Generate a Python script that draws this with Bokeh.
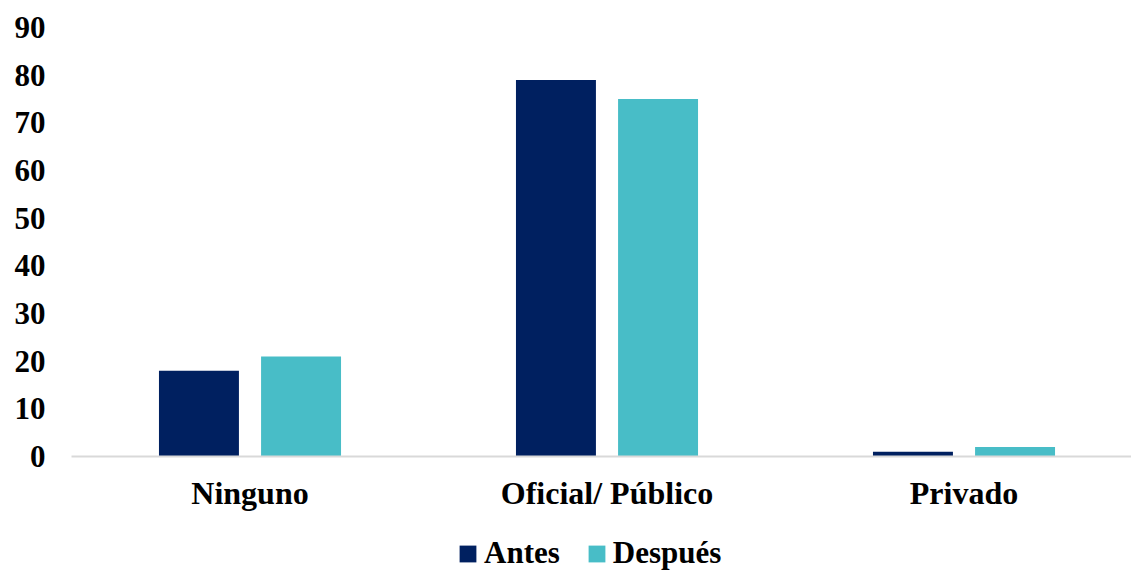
from bokeh.plotting import figure
from bokeh.layouts import column
from bokeh.models import Range1d, Legend, LegendItem, ColumnDataSource, FixedTicker
from bokeh.embed import file_html
from bokeh.resources import INLINE

categories = ["Ninguno", "Oficial/ Público", "Privado"]
antes = [18, 79, 1]
despues = [21, 75, 2]
series_names = ["Antes", "Después"]
y_ticks = [0, 10, 20, 30, 40, 50, 60, 70, 80, 90]

colors = ["#002060", "#48BDC7"]
FONT = "Liberation Serif"

centers = [i + 0.5 for i in range(len(categories))]
offset = 0.143
bar_w = 0.224
W = 1131

src = ColumnDataSource(dict(
    x_a=[c - offset for c in centers],
    x_d=[c + offset for c in centers],
    antes=antes, despues=despues, cat=categories))

p = figure(width=W, height=531, output_backend="svg", toolbar_location=None,
           x_range=Range1d(0, (W - 71) / 357.0), y_range=Range1d(0, 90),
           min_border_left=71, min_border_right=0, min_border_top=27, min_border_bottom=75)

p.vbar(x="x_a", top="antes", width=bar_w, bottom=0, source=src,
       fill_color=colors[0], line_color=None)
p.vbar(x="x_d", top="despues", width=bar_w, bottom=0, source=src,
       fill_color=colors[1], line_color=None)

p.outline_line_color = None
p.xgrid.grid_line_color = None
p.ygrid.grid_line_color = None

p.yaxis.ticker = FixedTicker(ticks=y_ticks)
p.yaxis.axis_line_color = None
p.yaxis.major_tick_line_color = None
p.yaxis.minor_tick_line_color = None
p.yaxis.major_label_standoff = 20
p.yaxis.major_label_text_font = FONT
p.yaxis.major_label_text_font_style = "bold"
p.yaxis.major_label_text_font_size = "31px"
p.yaxis.major_label_text_color = "#000000"

p.xaxis.ticker = FixedTicker(ticks=centers)
p.xaxis.major_label_overrides = {c: cat for c, cat in zip(centers, categories)}
p.xaxis.axis_line_color = "#D9D9D9"
p.xaxis.axis_line_width = 2
p.xaxis.major_tick_line_color = None
p.xaxis.minor_tick_line_color = None
p.xaxis.major_label_standoff = 12
p.xaxis.major_label_text_font = FONT
p.xaxis.major_label_text_font_style = "bold"
p.xaxis.major_label_text_font_size = "32px"
p.xaxis.major_label_text_color = "#000000"

# legend strip below the chart
lf = figure(width=W, height=40, output_backend="svg", toolbar_location=None,
            x_range=Range1d(0, (W - 71) / 357.0), y_range=Range1d(1000, 1001),
            x_axis_type=None, y_axis_type=None,
            min_border_left=0, min_border_right=0, min_border_top=0, min_border_bottom=0)
lf.outline_line_color = None
lf.xgrid.grid_line_color = None
lf.ygrid.grid_line_color = None
l1 = lf.vbar(x="x_a", top="antes", width=bar_w, bottom=0, source=src,
             fill_color=colors[0], line_color=None)
l2 = lf.vbar(x="x_d", top="despues", width=bar_w, bottom=0, source=src,
             fill_color=colors[1], line_color=None)

legend = Legend(items=[LegendItem(label=series_names[0], renderers=[l1]),
                       LegendItem(label=series_names[1], renderers=[l2])],
                orientation="horizontal", location=(386, 0),
                border_line_color=None, background_fill_alpha=0,
                label_text_font=FONT, label_text_font_style="bold",
                label_text_font_size="31px", label_text_color="#000000",
                glyph_width=21, glyph_height=21, label_standoff=6, spacing=26,
                padding=0, margin=0)
lf.add_layout(legend, "center")

layout = column(p, lf, spacing=0)
open("out.html", "w").write(file_html(layout, INLINE))
